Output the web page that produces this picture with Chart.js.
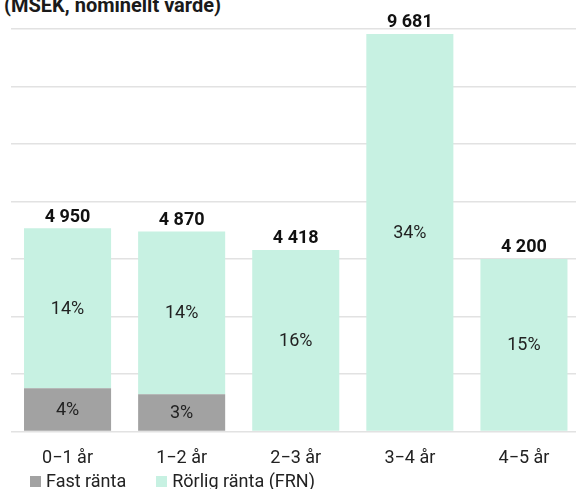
<!DOCTYPE html>
<html lang="sv">
<head>
<meta charset="utf-8">
<script src="https://cdn.jsdelivr.net/npm/chart.js@4.4.1/dist/chart.umd.min.js"></script>
<style>
  html, body { margin: 0; padding: 0; background: #fff; overflow: hidden; }
  body { width: 576px; height: 489px; position: relative; font-family: Roboto, sans-serif; }
  #title { position: absolute; left: 4px; top: -6px; font-size: 20px; line-height: 23px; font-weight: 700; color: #1a1a1a; white-space: nowrap; }
  #wrap { position: absolute; left: 0; top: 0; width: 582px; height: 489px; }
  #legend { position: absolute; left: 30px; top: 471px; display: flex; font-size: 18px; line-height: 20px; color: #222; }
  .lg-item { display: flex; align-items: center; margin-right: 30px; }
  .lg-box { width: 11px; height: 11px; margin-right: 5px; }
</style>
</head>
<body>
<div id="title">(MSEK, nominellt värde)</div>
<div id="wrap"><canvas id="chart"></canvas></div>
<div id="legend"></div>

<script>
/* ── Data ── */
var kategorier  = ['0\u22121 år', '1\u22122 år', '2\u22123 år', '3\u22124 år', '4\u22125 år'];
var fastRanta   = [1050, 905, 0, 0, 0];
var rorligRanta = [3900, 3965, 4418, 9681, 4200];
var fastPct     = ['4%', '3%', '', '', ''];
var rorligPct   = ['14%', '14%', '16%', '34%', '15%'];
var yMax  = 9800;
var yStep = 1400;

var FAST_COLOR   = '#a2a2a2';
var RORLIG_COLOR = '#c7f1e2';

/* Etiketter: procent i segmenten, summa ovanför stapeln */
var labelPlugin = {
  id: 'labels',
  afterDatasetsDraw: function(chart) {
    var ctx = chart.ctx;
    var pcts = [fastPct, rorligPct];
    ctx.save();
    ctx.textAlign = 'center';
    ctx.textBaseline = 'middle';
    ctx.fillStyle = '#222';
    ctx.font = '18px Roboto';
    chart.data.datasets.forEach(function(ds, di) {
      chart.getDatasetMeta(di).data.forEach(function(bar, i) {
        if (!pcts[di][i]) return;
        ctx.fillText(pcts[di][i], bar.x, (bar.y + bar.base) / 2 + 1);
      });
    });
    /* summor */
    ctx.font = 'bold 18px Roboto';
    ctx.textBaseline = 'bottom';
    ctx.fillStyle = '#111';
    var top = chart.getDatasetMeta(1).data;
    top.forEach(function(bar, i) {
      var sum = fastRanta[i] + rorligRanta[i];
      var txt = String(sum).replace(/\B(?=(\d{3})+(?!\d))/g, ' ');
      ctx.fillText(txt, bar.x, bar.y - 2);
    });
    ctx.restore();
  }
};

new Chart(document.getElementById('chart').getContext('2d'), {
  type: 'bar',
  data: {
    labels: kategorier,
    datasets: [
      { label: 'Fast ränta', data: fastRanta, backgroundColor: FAST_COLOR,
        barPercentage: 0.763, categoryPercentage: 1 },
      { label: 'Rörlig ränta (FRN)', data: rorligRanta, backgroundColor: RORLIG_COLOR,
        barPercentage: 0.763, categoryPercentage: 1 }
    ]
  },
  options: {
    responsive: true,
    maintainAspectRatio: false,
    animation: false,
    layout: { padding: { left: 10.5, right: 1, top: 29, bottom: 12 } },
    plugins: {
      legend: { display: false },
      tooltip: { enabled: false }
    },
    scales: {
      x: {
        stacked: true,
        grid: { display: false },
        border: { display: false },
        ticks: { font: { family: 'Roboto', size: 18 }, color: '#222', padding: 8 }
      },
      y: {
        stacked: true,
        min: 0,
        max: yMax,
        grid: { color: '#e2e2e2', lineWidth: 1.5, drawTicks: false },
        border: { display: false },
        ticks: { display: false, stepSize: yStep }
      }
    }
  },
  plugins: [labelPlugin]
});

/* Legend som HTML */
var lg = document.getElementById('legend');
[['Fast ränta', FAST_COLOR], ['Rörlig ränta (FRN)', RORLIG_COLOR]].forEach(function(it) {
  lg.innerHTML += '<div class="lg-item"><div class="lg-box" style="background:' + it[1] + '"></div><span>' + it[0] + '</span></div>';
});
</script>
</body>
</html>
